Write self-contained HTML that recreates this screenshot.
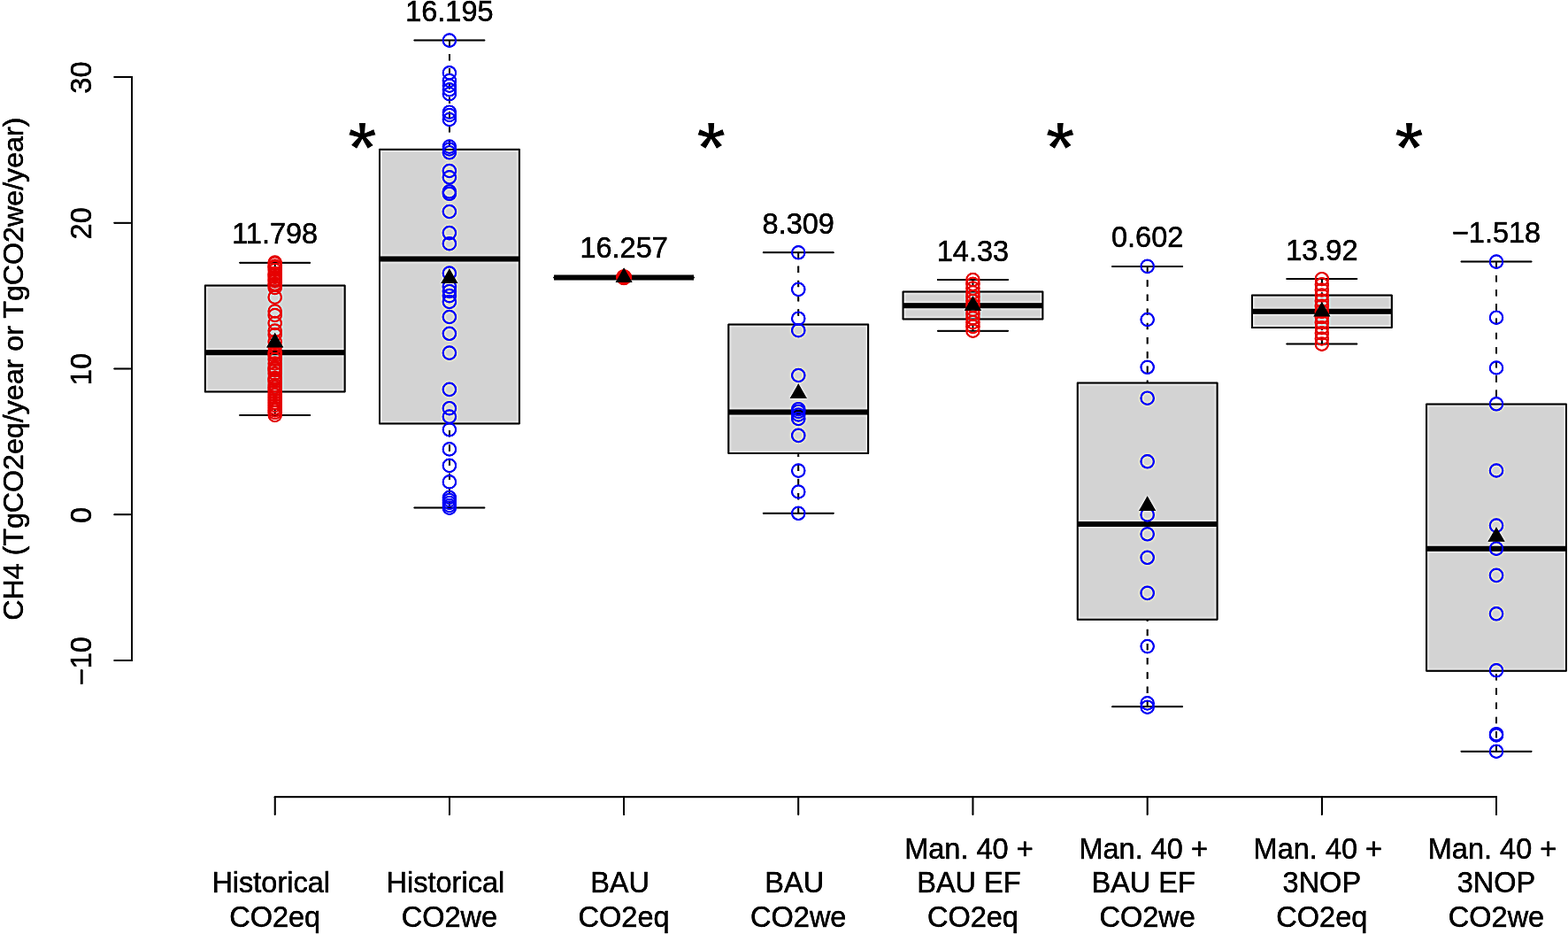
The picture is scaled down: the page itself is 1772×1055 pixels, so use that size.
<!DOCTYPE html>
<html><head><meta charset="utf-8"><title>CH4 boxplot</title>
<style>html,body{margin:0;padding:0;background:#fff;overflow:hidden}svg{display:block}text{font-family:"Liberation Sans",Arial,Helvetica,sans-serif;fill:#000;stroke:#000;stroke-width:0.5px}</style></head><body>
<svg width="1772" height="1055" viewBox="0 0 1772 1055">
<defs><filter id="sh" filterUnits="userSpaceOnUse" x="-20" y="-20" width="1812" height="1095" color-interpolation-filters="sRGB"><feGaussianBlur in="SourceGraphic" stdDeviation="1.5" result="b"/><feComposite in="SourceGraphic" in2="b" operator="arithmetic" k1="0" k2="1.45" k3="-0.45" k4="0"/></filter></defs>
<g filter="url(#sh)">
<rect x="-20" y="-20" width="1812" height="1095" fill="#fff"/>
<g stroke="#000" stroke-linecap="round" stroke-linejoin="round">
<path d="M231.75 322.45H389.65V442.4H231.75Z" fill="#d3d3d3" stroke-width="2.0"/>
<line x1="231.75" y1="398.2" x2="389.65" y2="398.2" stroke-width="6.0" stroke-linecap="butt"/>
<line x1="310.7" y1="296.7" x2="310.7" y2="322.45" stroke-width="2.0" stroke-dasharray="7.5 8.7" stroke-dashoffset="0.9" stroke-linecap="butt"/>
<line x1="310.7" y1="469" x2="310.7" y2="442.4" stroke-width="2.0" stroke-dasharray="7.5 8.7" stroke-dashoffset="0.9" stroke-linecap="butt"/>
<line x1="271.2" y1="296.7" x2="350.2" y2="296.7" stroke-width="2.0"/>
<line x1="271.2" y1="469" x2="350.2" y2="469" stroke-width="2.0"/>
<path d="M428.94 168.8H586.84V478.5H428.94Z" fill="#d3d3d3" stroke-width="2.0"/>
<line x1="428.94" y1="292.6" x2="586.84" y2="292.6" stroke-width="6.0" stroke-linecap="butt"/>
<line x1="507.89" y1="45.6" x2="507.89" y2="168.8" stroke-width="2.0" stroke-dasharray="7.5 8.7" stroke-dashoffset="0.9" stroke-linecap="butt"/>
<line x1="507.89" y1="573.6" x2="507.89" y2="478.5" stroke-width="2.0" stroke-dasharray="7.5 8.7" stroke-dashoffset="0.9" stroke-linecap="butt"/>
<line x1="468.39" y1="45.6" x2="547.39" y2="45.6" stroke-width="2.0"/>
<line x1="468.39" y1="573.6" x2="547.39" y2="573.6" stroke-width="2.0"/>
<path d="M626.13 313.6H784.03V313.6H626.13Z" fill="#d3d3d3" stroke-width="2.0"/>
<line x1="626.13" y1="313.6" x2="784.03" y2="313.6" stroke-width="6.0" stroke-linecap="butt"/>
<line x1="665.58" y1="313.6" x2="744.58" y2="313.6" stroke-width="2.0"/>
<line x1="665.58" y1="313.6" x2="744.58" y2="313.6" stroke-width="2.0"/>
<path d="M823.32 366.5H981.22V511.9H823.32Z" fill="#d3d3d3" stroke-width="2.0"/>
<line x1="823.32" y1="465.4" x2="981.22" y2="465.4" stroke-width="6.0" stroke-linecap="butt"/>
<line x1="902.27" y1="285.3" x2="902.27" y2="366.5" stroke-width="2.0" stroke-dasharray="7.5 8.7" stroke-dashoffset="0.9" stroke-linecap="butt"/>
<line x1="902.27" y1="579.8" x2="902.27" y2="511.9" stroke-width="2.0" stroke-dasharray="7.5 8.7" stroke-dashoffset="0.9" stroke-linecap="butt"/>
<line x1="862.77" y1="285.3" x2="941.77" y2="285.3" stroke-width="2.0"/>
<line x1="862.77" y1="579.8" x2="941.77" y2="579.8" stroke-width="2.0"/>
<path d="M1020.51 329.4H1178.41V360.4H1020.51Z" fill="#d3d3d3" stroke-width="2.0"/>
<line x1="1020.51" y1="345.2" x2="1178.41" y2="345.2" stroke-width="6.0" stroke-linecap="butt"/>
<line x1="1099.46" y1="316" x2="1099.46" y2="329.4" stroke-width="2.0" stroke-dasharray="7.5 8.7" stroke-dashoffset="0.9" stroke-linecap="butt"/>
<line x1="1099.46" y1="373.7" x2="1099.46" y2="360.4" stroke-width="2.0" stroke-dasharray="7.5 8.7" stroke-dashoffset="0.9" stroke-linecap="butt"/>
<line x1="1059.96" y1="316" x2="1138.96" y2="316" stroke-width="2.0"/>
<line x1="1059.96" y1="373.7" x2="1138.96" y2="373.7" stroke-width="2.0"/>
<path d="M1217.7 432.4H1375.6V699.8H1217.7Z" fill="#d3d3d3" stroke-width="2.0"/>
<line x1="1217.7" y1="592" x2="1375.6" y2="592" stroke-width="6.0" stroke-linecap="butt"/>
<line x1="1296.65" y1="300.9" x2="1296.65" y2="432.4" stroke-width="2.0" stroke-dasharray="7.5 8.7" stroke-dashoffset="0.9" stroke-linecap="butt"/>
<line x1="1296.65" y1="798.3" x2="1296.65" y2="699.8" stroke-width="2.0" stroke-dasharray="7.5 8.7" stroke-dashoffset="0.9" stroke-linecap="butt"/>
<line x1="1257.15" y1="300.9" x2="1336.15" y2="300.9" stroke-width="2.0"/>
<line x1="1257.15" y1="798.3" x2="1336.15" y2="798.3" stroke-width="2.0"/>
<path d="M1414.89 333.5H1572.79V370.1H1414.89Z" fill="#d3d3d3" stroke-width="2.0"/>
<line x1="1414.89" y1="351.7" x2="1572.79" y2="351.7" stroke-width="6.0" stroke-linecap="butt"/>
<line x1="1493.84" y1="315" x2="1493.84" y2="333.5" stroke-width="2.0" stroke-dasharray="7.5 8.7" stroke-dashoffset="0.9" stroke-linecap="butt"/>
<line x1="1493.84" y1="388.6" x2="1493.84" y2="370.1" stroke-width="2.0" stroke-dasharray="7.5 8.7" stroke-dashoffset="0.9" stroke-linecap="butt"/>
<line x1="1454.34" y1="315" x2="1533.34" y2="315" stroke-width="2.0"/>
<line x1="1454.34" y1="388.6" x2="1533.34" y2="388.6" stroke-width="2.0"/>
<path d="M1612.08 456.4H1769.98V757.7H1612.08Z" fill="#d3d3d3" stroke-width="2.0"/>
<line x1="1612.08" y1="619.65" x2="1769.98" y2="619.65" stroke-width="6.0" stroke-linecap="butt"/>
<line x1="1691.03" y1="295.6" x2="1691.03" y2="456.4" stroke-width="2.0" stroke-dasharray="7.5 8.7" stroke-dashoffset="0.9" stroke-linecap="butt"/>
<line x1="1691.03" y1="848.7" x2="1691.03" y2="757.7" stroke-width="2.0" stroke-dasharray="7.5 8.7" stroke-dashoffset="0.9" stroke-linecap="butt"/>
<line x1="1651.53" y1="295.6" x2="1730.53" y2="295.6" stroke-width="2.0"/>
<line x1="1651.53" y1="848.7" x2="1730.53" y2="848.7" stroke-width="2.0"/>
</g>
<g fill="none" stroke="#e60000" stroke-width="2.2">
<circle cx="310.7" cy="296.5" r="7.2"/>
<circle cx="310.7" cy="297.5" r="7.2"/>
<circle cx="310.7" cy="300.5" r="7.2"/>
<circle cx="310.7" cy="302" r="7.2"/>
<circle cx="310.7" cy="305" r="7.2"/>
<circle cx="310.7" cy="309" r="7.2"/>
<circle cx="310.7" cy="310.5" r="7.2"/>
<circle cx="310.7" cy="313" r="7.2"/>
<circle cx="310.7" cy="315.5" r="7.2"/>
<circle cx="310.7" cy="317.5" r="7.2"/>
<circle cx="310.7" cy="320.6" r="7.2"/>
<circle cx="310.7" cy="322" r="7.2"/>
<circle cx="310.7" cy="325" r="7.2"/>
<circle cx="310.7" cy="335.7" r="7.2"/>
<circle cx="310.7" cy="351.5" r="7.2"/>
<circle cx="310.7" cy="356" r="7.2"/>
<circle cx="310.7" cy="365" r="7.2"/>
<circle cx="310.7" cy="373.5" r="7.2"/>
<circle cx="310.7" cy="378" r="7.2"/>
<circle cx="310.7" cy="386" r="7.2"/>
<circle cx="310.7" cy="392" r="7.2"/>
<circle cx="310.7" cy="398" r="7.2"/>
<circle cx="310.7" cy="399.5" r="7.2"/>
<circle cx="310.7" cy="402" r="7.2"/>
<circle cx="310.7" cy="406" r="7.2"/>
<circle cx="310.7" cy="410.5" r="7.2"/>
<circle cx="310.7" cy="415" r="7.2"/>
<circle cx="310.7" cy="416.5" r="7.2"/>
<circle cx="310.7" cy="418.5" r="7.2"/>
<circle cx="310.7" cy="422" r="7.2"/>
<circle cx="310.7" cy="427" r="7.2"/>
<circle cx="310.7" cy="428.5" r="7.2"/>
<circle cx="310.7" cy="431" r="7.2"/>
<circle cx="310.7" cy="435" r="7.2"/>
<circle cx="310.7" cy="437.5" r="7.2"/>
<circle cx="310.7" cy="440" r="7.2"/>
<circle cx="310.7" cy="443" r="7.2"/>
<circle cx="310.7" cy="446" r="7.2"/>
<circle cx="310.7" cy="449" r="7.2"/>
<circle cx="310.7" cy="452" r="7.2"/>
<circle cx="310.7" cy="455" r="7.2"/>
<circle cx="310.7" cy="458" r="7.2"/>
<circle cx="310.7" cy="461" r="7.2"/>
<circle cx="310.7" cy="463.5" r="7.2"/>
<circle cx="310.7" cy="466" r="7.2"/>
<circle cx="310.7" cy="469" r="7.2"/>
</g>
<g fill="none" stroke="#0000f5" stroke-width="2.2">
<circle cx="507.89" cy="45.6" r="7.2"/>
<circle cx="507.89" cy="82.3" r="7.2"/>
<circle cx="507.89" cy="91" r="7.2"/>
<circle cx="507.89" cy="96.7" r="7.2"/>
<circle cx="507.89" cy="101.3" r="7.2"/>
<circle cx="507.89" cy="106.2" r="7.2"/>
<circle cx="507.89" cy="126.7" r="7.2"/>
<circle cx="507.89" cy="130" r="7.2"/>
<circle cx="507.89" cy="135" r="7.2"/>
<circle cx="507.89" cy="165.6" r="7.2"/>
<circle cx="507.89" cy="168.5" r="7.2"/>
<circle cx="507.89" cy="172.3" r="7.2"/>
<circle cx="507.89" cy="193" r="7.2"/>
<circle cx="507.89" cy="200.3" r="7.2"/>
<circle cx="507.89" cy="216.4" r="7.2"/>
<circle cx="507.89" cy="218.8" r="7.2"/>
<circle cx="507.89" cy="239" r="7.2"/>
<circle cx="507.89" cy="263.1" r="7.2"/>
<circle cx="507.89" cy="275.2" r="7.2"/>
<circle cx="507.89" cy="308.5" r="7.2"/>
<circle cx="507.89" cy="323.9" r="7.2"/>
<circle cx="507.89" cy="329" r="7.2"/>
<circle cx="507.89" cy="334.1" r="7.2"/>
<circle cx="507.89" cy="341" r="7.2"/>
<circle cx="507.89" cy="358" r="7.2"/>
<circle cx="507.89" cy="376.8" r="7.2"/>
<circle cx="507.89" cy="398.6" r="7.2"/>
<circle cx="507.89" cy="439.9" r="7.2"/>
<circle cx="507.89" cy="461.2" r="7.2"/>
<circle cx="507.89" cy="470.6" r="7.2"/>
<circle cx="507.89" cy="485.3" r="7.2"/>
<circle cx="507.89" cy="507.4" r="7.2"/>
<circle cx="507.89" cy="525.9" r="7.2"/>
<circle cx="507.89" cy="544.4" r="7.2"/>
<circle cx="507.89" cy="562" r="7.2"/>
<circle cx="507.89" cy="565" r="7.2"/>
<circle cx="507.89" cy="568" r="7.2"/>
<circle cx="507.89" cy="571" r="7.2"/>
<circle cx="507.89" cy="573.6" r="7.2"/>
</g>
<g fill="none" stroke="#e60000" stroke-width="2.2">
<circle cx="705.08" cy="313.6" r="7.2"/>
</g>
<g fill="none" stroke="#0000f5" stroke-width="2.2">
<circle cx="902.27" cy="285.3" r="7.2"/>
<circle cx="902.27" cy="326.9" r="7.2"/>
<circle cx="902.27" cy="359.7" r="7.2"/>
<circle cx="902.27" cy="373.2" r="7.2"/>
<circle cx="902.27" cy="424" r="7.2"/>
<circle cx="902.27" cy="462.2" r="7.2"/>
<circle cx="902.27" cy="464.9" r="7.2"/>
<circle cx="902.27" cy="468.5" r="7.2"/>
<circle cx="902.27" cy="473" r="7.2"/>
<circle cx="902.27" cy="491.9" r="7.2"/>
<circle cx="902.27" cy="531.6" r="7.2"/>
<circle cx="902.27" cy="555.5" r="7.2"/>
<circle cx="902.27" cy="579.8" r="7.2"/>
</g>
<g fill="none" stroke="#e60000" stroke-width="2.2">
<circle cx="1099.46" cy="316" r="7.2"/>
<circle cx="1099.46" cy="320.81" r="7.2"/>
<circle cx="1099.46" cy="325.62" r="7.2"/>
<circle cx="1099.46" cy="330.43" r="7.2"/>
<circle cx="1099.46" cy="335.23" r="7.2"/>
<circle cx="1099.46" cy="340.04" r="7.2"/>
<circle cx="1099.46" cy="344.85" r="7.2"/>
<circle cx="1099.46" cy="349.66" r="7.2"/>
<circle cx="1099.46" cy="354.47" r="7.2"/>
<circle cx="1099.46" cy="359.27" r="7.2"/>
<circle cx="1099.46" cy="364.08" r="7.2"/>
<circle cx="1099.46" cy="368.89" r="7.2"/>
<circle cx="1099.46" cy="373.7" r="7.2"/>
</g>
<g fill="none" stroke="#0000f5" stroke-width="2.2">
<circle cx="1296.65" cy="300.9" r="7.2"/>
<circle cx="1296.65" cy="361" r="7.2"/>
<circle cx="1296.65" cy="414.8" r="7.2"/>
<circle cx="1296.65" cy="449.7" r="7.2"/>
<circle cx="1296.65" cy="521.3" r="7.2"/>
<circle cx="1296.65" cy="581.4" r="7.2"/>
<circle cx="1296.65" cy="603.3" r="7.2"/>
<circle cx="1296.65" cy="629.8" r="7.2"/>
<circle cx="1296.65" cy="669.9" r="7.2"/>
<circle cx="1296.65" cy="730.1" r="7.2"/>
<circle cx="1296.65" cy="794.4" r="7.2"/>
<circle cx="1296.65" cy="798.7" r="7.2"/>
</g>
<g fill="none" stroke="#e60000" stroke-width="2.2">
<circle cx="1493.84" cy="315.2" r="7.2"/>
<circle cx="1493.84" cy="321.32" r="7.2"/>
<circle cx="1493.84" cy="327.43" r="7.2"/>
<circle cx="1493.84" cy="333.55" r="7.2"/>
<circle cx="1493.84" cy="339.67" r="7.2"/>
<circle cx="1493.84" cy="345.78" r="7.2"/>
<circle cx="1493.84" cy="351.9" r="7.2"/>
<circle cx="1493.84" cy="358.02" r="7.2"/>
<circle cx="1493.84" cy="364.13" r="7.2"/>
<circle cx="1493.84" cy="370.25" r="7.2"/>
<circle cx="1493.84" cy="376.37" r="7.2"/>
<circle cx="1493.84" cy="382.48" r="7.2"/>
<circle cx="1493.84" cy="388.6" r="7.2"/>
</g>
<g fill="none" stroke="#0000f5" stroke-width="2.2">
<circle cx="1691.03" cy="295.6" r="7.2"/>
<circle cx="1691.03" cy="358.7" r="7.2"/>
<circle cx="1691.03" cy="415.5" r="7.2"/>
<circle cx="1691.03" cy="456.3" r="7.2"/>
<circle cx="1691.03" cy="531.5" r="7.2"/>
<circle cx="1691.03" cy="593.6" r="7.2"/>
<circle cx="1691.03" cy="619.6" r="7.2"/>
<circle cx="1691.03" cy="649.9" r="7.2"/>
<circle cx="1691.03" cy="693.3" r="7.2"/>
<circle cx="1691.03" cy="757.3" r="7.2"/>
<circle cx="1691.03" cy="829.2" r="7.2"/>
<circle cx="1691.03" cy="830.5" r="7.2"/>
<circle cx="1691.03" cy="848.7" r="7.2"/>
</g>
<circle cx="705.08" cy="313.1" r="9.1" fill="#e60000"/>
<g fill="#000">
<polygon points="310.7,375.82 320.29,392.43 301.11,392.43"/>
<polygon points="507.89,303.37 517.48,319.98 498.3,319.98"/>
<polygon points="705.08,302.34 714.67,318.95 695.49,318.95"/>
<polygon points="902.27,433.31 911.86,449.92 892.68,449.92"/>
<polygon points="1099.46,334.1 1109.05,350.71 1089.87,350.71"/>
<polygon points="1296.65,560.31 1306.24,576.92 1287.06,576.92"/>
<polygon points="1493.84,340.85 1503.43,357.46 1484.25,357.46"/>
<polygon points="1691.03,595.24 1700.62,611.85 1681.44,611.85"/>
</g>
<text x="310.7" y="275.2" font-size="32.5" text-anchor="middle">11.798</text>
<text x="507.89" y="24.1" font-size="32.5" text-anchor="middle">16.195</text>
<text x="705.08" y="291.1" font-size="32.5" text-anchor="middle">16.257</text>
<text x="902.27" y="263.8" font-size="32.5" text-anchor="middle">8.309</text>
<text x="1099.46" y="294.5" font-size="32.5" text-anchor="middle">14.33</text>
<text x="1296.65" y="279.4" font-size="32.5" text-anchor="middle">0.602</text>
<text x="1493.84" y="293.5" font-size="32.5" text-anchor="middle">13.92</text>
<text x="1691.03" y="274.1" font-size="32.5" text-anchor="middle">−1.518</text>
<text x="409.29" y="196.0" font-size="84" font-weight="bold" text-anchor="middle" style="stroke:#fff;stroke-width:1.8px">*</text>
<text x="803.67" y="196.0" font-size="84" font-weight="bold" text-anchor="middle" style="stroke:#fff;stroke-width:1.8px">*</text>
<text x="1198.06" y="196.0" font-size="84" font-weight="bold" text-anchor="middle" style="stroke:#fff;stroke-width:1.8px">*</text>
<text x="1592.43" y="196.0" font-size="84" font-weight="bold" text-anchor="middle" style="stroke:#fff;stroke-width:1.8px">*</text>
<g stroke="#000" stroke-width="2" stroke-linecap="round" fill="none">
<line x1="149" y1="86.96" x2="149" y2="746.08"/>
<line x1="129.3" y1="86.96" x2="149" y2="86.96"/>
<line x1="129.3" y1="251.74" x2="149" y2="251.74"/>
<line x1="129.3" y1="416.52" x2="149" y2="416.52"/>
<line x1="129.3" y1="581.3" x2="149" y2="581.3"/>
<line x1="129.3" y1="746.08" x2="149" y2="746.08"/>
<line x1="310.7" y1="900.2" x2="1691.03" y2="900.2"/>
<line x1="310.7" y1="900.2" x2="310.7" y2="920"/>
<line x1="507.89" y1="900.2" x2="507.89" y2="920"/>
<line x1="705.08" y1="900.2" x2="705.08" y2="920"/>
<line x1="902.27" y1="900.2" x2="902.27" y2="920"/>
<line x1="1099.46" y1="900.2" x2="1099.46" y2="920"/>
<line x1="1296.65" y1="900.2" x2="1296.65" y2="920"/>
<line x1="1493.84" y1="900.2" x2="1493.84" y2="920"/>
<line x1="1691.03" y1="900.2" x2="1691.03" y2="920"/>
</g>
<text transform="translate(102.7,87.56) rotate(-90)" font-size="32.5" text-anchor="middle">30</text>
<text transform="translate(102.7,252.34) rotate(-90)" font-size="32.5" text-anchor="middle">20</text>
<text transform="translate(102.7,417.12) rotate(-90)" font-size="32.5" text-anchor="middle">10</text>
<text transform="translate(102.7,581.9) rotate(-90)" font-size="32.5" text-anchor="middle">0</text>
<text transform="translate(102.7,746.68) rotate(-90)" font-size="32.5" text-anchor="middle">−10</text>
<text transform="translate(26.2,416.7) rotate(-90)" font-size="32.2" text-anchor="middle">CH4 (TgCO2eq/year or TgCO2we/year)</text>
<text x="306.2" y="1008" font-size="32.5" text-anchor="middle">Historical</text>
<text x="310.7" y="1046.5" font-size="32.5" text-anchor="middle">CO2eq</text>
<text x="503.39" y="1008" font-size="32.5" text-anchor="middle">Historical</text>
<text x="507.89" y="1046.5" font-size="32.5" text-anchor="middle">CO2we</text>
<text x="700.58" y="1008" font-size="32.5" text-anchor="middle">BAU</text>
<text x="705.08" y="1046.5" font-size="32.5" text-anchor="middle">CO2eq</text>
<text x="897.77" y="1008" font-size="32.5" text-anchor="middle">BAU</text>
<text x="902.27" y="1046.5" font-size="32.5" text-anchor="middle">CO2we</text>
<text x="1094.96" y="969.5" font-size="32.5" text-anchor="middle">Man. 40 +</text>
<text x="1094.96" y="1008" font-size="32.5" text-anchor="middle">BAU EF</text>
<text x="1099.46" y="1046.5" font-size="32.5" text-anchor="middle">CO2eq</text>
<text x="1292.15" y="969.5" font-size="32.5" text-anchor="middle">Man. 40 +</text>
<text x="1292.15" y="1008" font-size="32.5" text-anchor="middle">BAU EF</text>
<text x="1296.65" y="1046.5" font-size="32.5" text-anchor="middle">CO2we</text>
<text x="1489.34" y="969.5" font-size="32.5" text-anchor="middle">Man. 40 +</text>
<text x="1493.84" y="1008" font-size="32.5" text-anchor="middle">3NOP</text>
<text x="1493.84" y="1046.5" font-size="32.5" text-anchor="middle">CO2eq</text>
<text x="1686.53" y="969.5" font-size="32.5" text-anchor="middle">Man. 40 +</text>
<text x="1691.03" y="1008" font-size="32.5" text-anchor="middle">3NOP</text>
<text x="1691.03" y="1046.5" font-size="32.5" text-anchor="middle">CO2we</text>
</g></svg></body></html>
